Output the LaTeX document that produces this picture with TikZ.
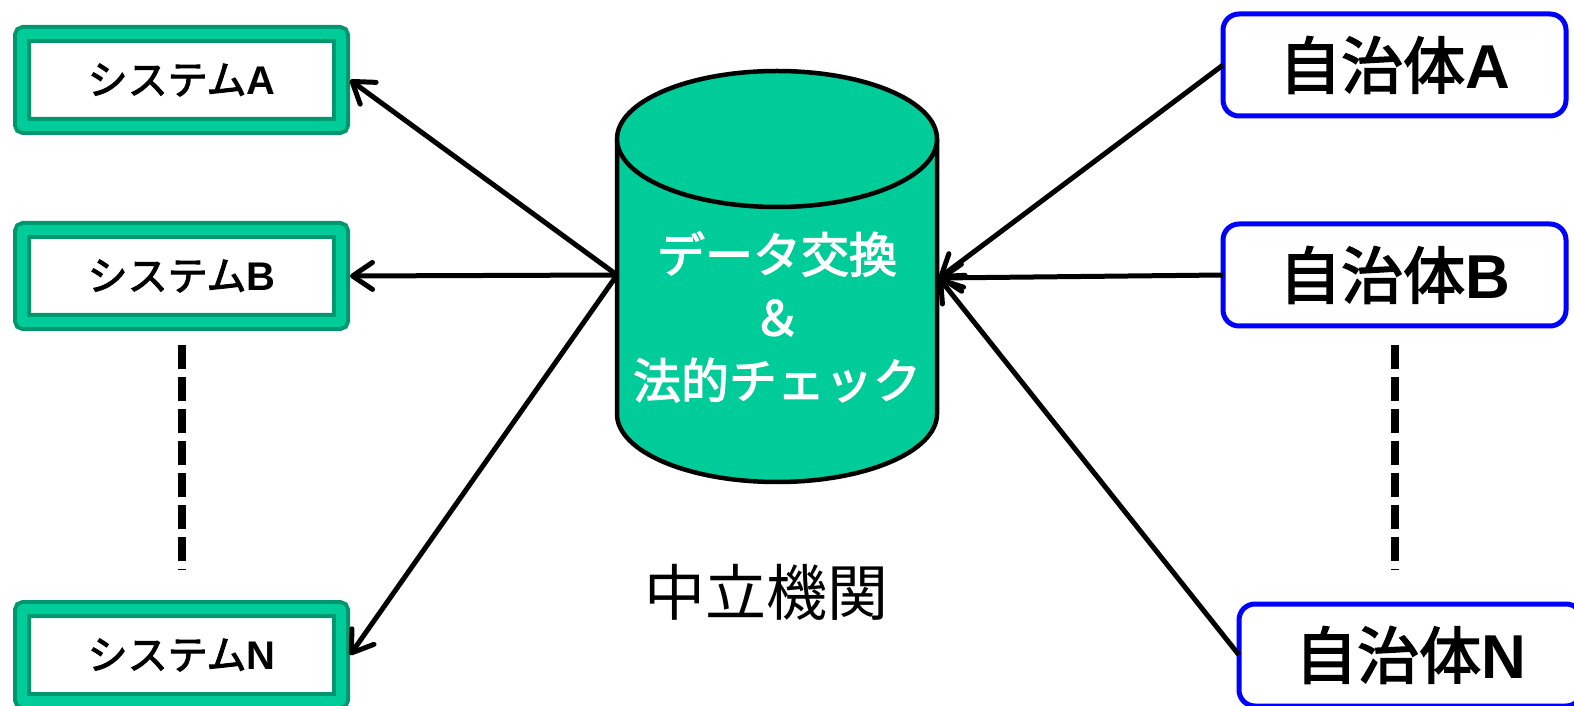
\documentclass[tikz,border=0pt]{standalone}
\usepackage{fontspec}
\newfontfamily\cjk{Noto Sans CJK JP}
\newfontfamily\cjkb[FakeBold=2.5]{Noto Sans CJK JP}
\newfontfamily\lat{Liberation Sans}
\usetikzlibrary{arrows.meta}
\definecolor{gfill}{HTML}{00CC99}
\definecolor{gdark}{HTML}{00976F}
\definecolor{jblue}{HTML}{0000FF}
\begin{document}
\begin{tikzpicture}[x=1pt,y=1pt,
  sysbox/.style={draw=gdark, double=gfill, line width=4pt, double distance=10pt,
    fill=white, minimum width=319pt, minimum height=92pt, inner sep=0pt, outer sep=0pt,
    rounded corners=2pt, font=\cjkb\fontsize{40}{46}\selectfont},
  jbox/.style={draw=jblue, line width=5pt, rounded corners=16pt, fill=white,
    minimum width=343pt, minimum height=102pt, inner sep=0pt, outer sep=0pt,
    font=\cjkb\fontsize{62}{70}\selectfont},
  arr/.style={line width=5pt, -{Straight Barb[length=20pt,width=27pt,round]}},
  dashline/.style={line width=8pt, dash pattern=on 24pt off 8pt}
]
\useasboundingbox (0,0) rectangle (1574,705);
% cylinder
\fill[gfill] (617,566) -- (617,291) arc[start angle=180,end angle=360,x radius=160pt,y radius=68pt] -- (937,566) -- cycle;
\draw[line width=4.5pt] (617,566) -- (617,291) arc[start angle=180,end angle=360,x radius=160pt,y radius=68pt] -- (937,566);
\draw[line width=4.5pt, fill=gfill] (777,566) ellipse[x radius=160pt, y radius=68pt];
\node[text=white, font=\cjkb\fontsize{48}{63}\selectfont, align=center] (dbtxt) at (777,388) {データ交換\\＆\\法的チェック};
\coordinate (dbL) at (617,430);
\coordinate (dbR) at (939,427);
% systems
\node[sysbox] (sA) at (181.5,625) {システム{\lat\bfseries A}};
\node[sysbox] (sB) at (181.5,429) {システム{\lat\bfseries B}};
\node[sysbox] (sN) at (181.5,50) {システム{\lat\bfseries N}};
% municipalities
\node[jbox] (jA) at (1394.5,640) {自治体{\lat\bfseries A}};
\node[jbox] (jB) at (1394.5,430) {自治体{\lat\bfseries B}};
\node[jbox] (jN) at (1410.5,50) {自治体{\lat\bfseries N}};
% label
\node[font=\cjk\fontsize{61}{66}\selectfont] (lbl) at (766,113) {中立機関};
% arrows
\draw[arr] (dbL) -- ([xshift=9pt]sA.east);
\draw[arr] (dbL) -- ([xshift=9pt]sB.east);
\draw[arr] (dbL) -- ([xshift=9pt]sN.east);
\draw[arr] (jA.west) -- (dbR);
\draw[arr] (jB.west) -- (dbR);
\draw[arr] (jN.west) -- (dbR);
% dashed
\draw[dashline] ([yshift=-23pt]sB.south) -- ([yshift=39pt]sN.north);
\draw[dashline] ([yshift=-19pt]jB.south) -- ([yshift=34pt]jN.north -| jB.south);
\end{tikzpicture}
\end{document}
